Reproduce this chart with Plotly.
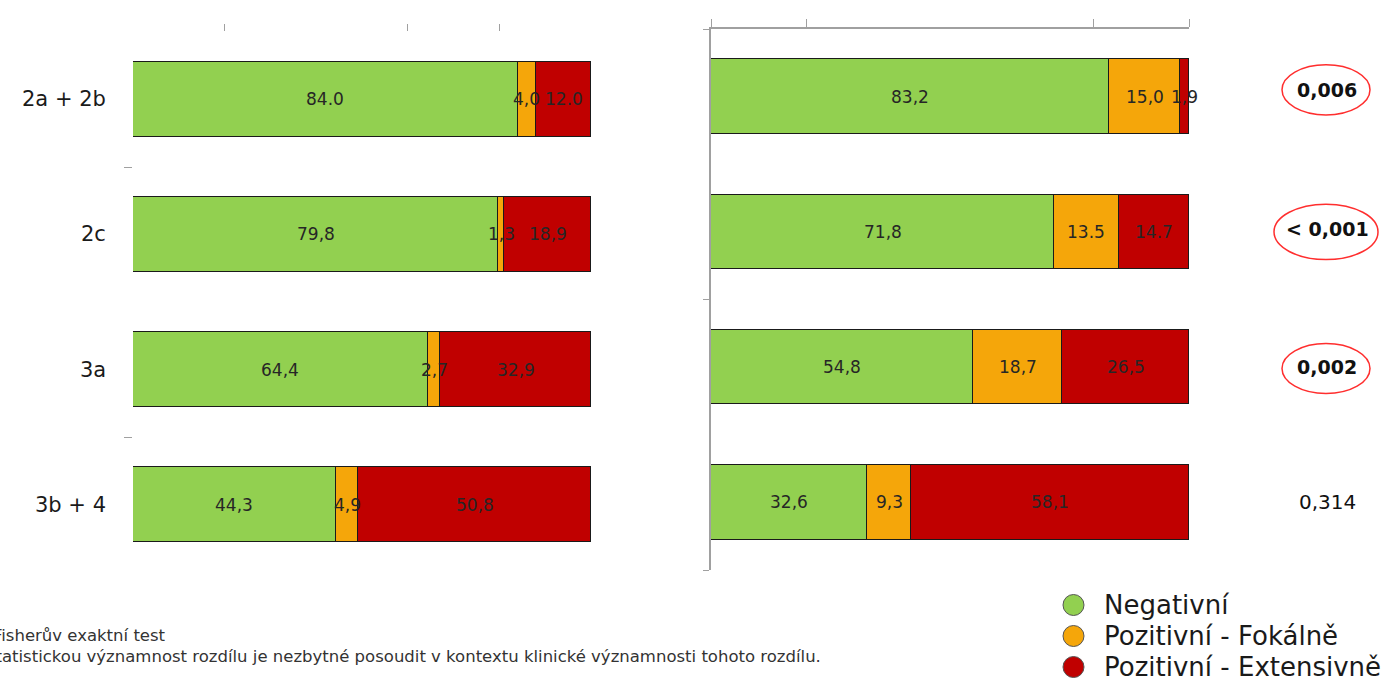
import plotly.graph_objects as go

# ---- data -------------------------------------------------------------
categories = ["2a + 2b", "2c", "3a", "3b + 4"]
series_names = ["Negativní", "Pozitivní - Fokálně", "Pozitivní - Extensivně"]
series_colors = ["#92D050", "#F5A60A", "#C00000"]

# left panel (%)
left_neg = [84.0, 79.8, 64.4, 44.3]
left_foc = [4.0, 1.3, 2.7, 4.9]
left_ext = [12.0, 18.9, 32.9, 50.8]

# right panel (%)
right_neg = [83.2, 71.8, 54.8, 32.6]
right_foc = [15.0, 13.5, 18.7, 9.3]
right_ext = [1.9, 14.7, 26.5, 58.1]

# decimal separator printed in each value label
left_sep = [[".", ",", ",", ","], [",", ",", ",", ","], [".", ",", ",", ","]]
right_sep = [[",", ",", ",", ","], [",", ".", ",", ","], [",", ".", ",", ","]]

p_values = ["0,006", "< 0,001", "0,002", "0,314"]
p_significant = [True, True, True, False]

footnotes = [
    "Fisherův exaktní test",
    "Statistickou významnost rozdílu je nezbytné posoudit v kontextu klinické významnosti tohoto rozdílu.",
]

# ---- helpers ----------------------------------------------------------
W, H = 1393, 687
FONT = "DejaVu Sans"


def px(x):
    return x / W


def py(y):
    return 1 - y / H


def fmt(v, sep):
    return f"{v:.1f}".replace(".", sep)


rows = list(range(len(categories)))

fig = go.Figure()
annotations = []
shapes = []

panels = [
    ("x", "y", [left_neg, left_foc, left_ext], left_sep),
    ("x2", "y2", [right_neg, right_foc, right_ext], right_sep),
]
for xa, ya, values, seps in panels:
    start = [0.0] * len(rows)
    for name, color, vals, sp in zip(series_names, series_colors, values, seps):
        fig.add_trace(go.Bar(
            x=vals, y=rows, orientation="h", name=name,
            xaxis=xa, yaxis=ya, width=0.55,
            marker=dict(color=color, line=dict(color="#1a1a1a", width=1.5)),
            cliponaxis=False, showlegend=False, hoverinfo="skip",
        ))
        # value label centred on each segment
        for r, v, s in zip(rows, vals, sp):
            annotations.append(dict(
                x=start[r] + v / 2, y=r, xref=xa, yref=ya,
                xanchor="center", yanchor="middle", showarrow=False,
                text=fmt(v, s), font=dict(family=FONT, size=17, color="#262626"),
            ))
            start[r] += v

axis_grey = "#a0a0a0"
fig.update_layout(
    width=W, height=H,
    margin=dict(l=0, r=0, t=0, b=0),
    paper_bgcolor="white", plot_bgcolor="white",
    barmode="stack", bargap=0,
    xaxis=dict(domain=[px(133), px(591)], range=[0, 100], side="top", anchor="y",
               showgrid=False, zeroline=False, showline=False, showticklabels=False,
               ticks="outside", tickvals=[20, 60, 80], ticklen=7, tickwidth=1.2,
               tickcolor=axis_grey),
    yaxis=dict(domain=[py(572), py(32)], range=[3.5, -0.5], anchor="x",
               showgrid=False, zeroline=False, showline=False, showticklabels=False,
               ticks="outside", tickvals=[0.5, 2.5], ticklen=8, tickwidth=1.2,
               tickcolor=axis_grey),
    xaxis2=dict(domain=[px(711), px(1189)], range=[0, 100], side="top", anchor="y2",
                showgrid=False, zeroline=False, showline=True, linecolor=axis_grey,
                linewidth=1.5, showticklabels=False, ticks="outside",
                tickvals=[0, 20, 80, 100], ticklen=8, tickwidth=1.2, tickcolor=axis_grey),
    yaxis2=dict(domain=[py(570), py(29)], range=[3.5, -0.5], anchor="x2",
                showgrid=False, zeroline=False, showline=True, linecolor=axis_grey,
                linewidth=1.5, showticklabels=False, ticks="outside",
                tickvals=[-0.5, 1.5, 3.5], ticklen=6, tickwidth=1.2, tickcolor=axis_grey),
)

# category labels on the left
for i, cat in enumerate(categories):
    annotations.append(dict(
        x=px(108), y=i, xref="paper", yref="y", xanchor="right", yanchor="middle",
        text=cat, showarrow=False, font=dict(family=FONT, size=21, color="#1a1a1a"),
    ))

# p-values to the right, significant ones circled
p_x = 1327
for i, (p, sig) in enumerate(zip(p_values, p_significant)):
    label = f"<b>{p}</b>" if sig else p
    lift = 0.05 if i == 0 else 0.02 if i == 1 else 0.0
    annotations.append(dict(
        x=px(p_x), y=i - lift, xref="paper", yref="y2", xanchor="center",
        yanchor="middle", text=label, showarrow=False,
        font=dict(family=FONT, size=19 if sig else 20, color="#111111"),
    ))
    if sig:
        half_w = 24 + 4 * len(p)
        half_h = 0.205 if len(p) > 5 else 0.185
        cy = i - (0.05 if i == 0 else -0.01 if i == 2 else 0.0)
        shapes.append(dict(
            type="circle", xref="paper", yref="y2",
            x0=px(p_x - 1 - half_w), x1=px(p_x - 1 + half_w),
            y0=cy - half_h, y1=cy + half_h,
            line=dict(color="#FF2E2E", width=1.5), fillcolor="rgba(0,0,0,0)",
        ))

# legend drawn as circles with labels
for k, (name, color) in enumerate(zip(series_names, series_colors)):
    cy = 605 + 31 * k
    shapes.append(dict(
        type="circle", xref="paper", yref="paper",
        x0=px(1063), x1=px(1084), y0=py(cy + 10.5), y1=py(cy - 10.5),
        fillcolor=color, line=dict(color="#555555", width=1),
    ))
    annotations.append(dict(
        x=px(1102), y=py(cy), xref="paper", yref="paper", xanchor="left",
        yanchor="middle", text=name, showarrow=False,
        font=dict(family=FONT, size=26, color="#1a1a1a"),
    ))

# footnotes at the bottom left (their first letters run past the page edge)
for k, (note, x0) in enumerate(zip(footnotes, [-9.5, -17])):
    annotations.append(dict(
        x=px(x0), y=py(635 + 21 * k), xref="paper", yref="paper", xanchor="left",
        yanchor="middle", text=note, showarrow=False,
        font=dict(family=FONT, size=16.5, color="#333333"),
    ))

fig.update_layout(annotations=annotations, shapes=shapes)

fig.write_html("out.html")
